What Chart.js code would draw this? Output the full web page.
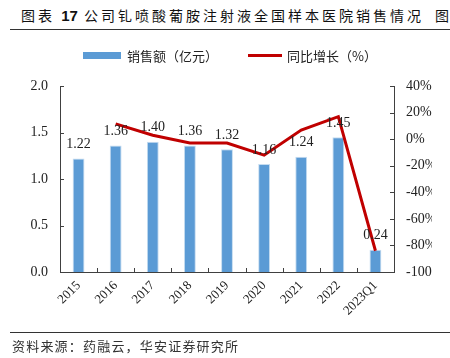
<!DOCTYPE html>
<html lang="zh">
<head>
<meta charset="UTF-8">
<title>钆喷酸葡胺注射液销售情况</title>
<script src="https://cdn.jsdelivr.net/npm/chart.js@4.4.0/dist/chart.umd.min.js"></script>
<style>
    body { margin: 0; width: 450px; height: 358px; overflow: hidden; background: #fff; position: relative; }
    .title { position: absolute; top: 6px; white-space: nowrap; font-family: "Noto Sans CJK SC", sans-serif; font-size: 14px; font-weight: 400; letter-spacing: 3px; color: #111; line-height: 18px; }
    .title b { font-family: "Liberation Sans", Arial, sans-serif; font-weight: bold; letter-spacing: 0; font-size: 15px; }
    .rule { position: absolute; left: 10px; width: 440px; height: 0; border-top: 1.5px solid #333; }
    #src { position: absolute; left: 12px; top: 336px; font-family: "Noto Sans CJK SC", sans-serif; font-size: 13px; letter-spacing: 1.2px; color: #333; }
    #wrap { position: absolute; left: 0; top: 0; width: 432px; height: 358px; overflow: hidden; }
</style>
</head>
<body>
<div class="title" style="left:21px">图表 <b>17</b> 公司钆喷酸葡胺注射液全国样本医院销售情况</div>
<div class="title" style="left:435px">图</div>
<div class="rule" style="top:29px"></div>
<div id="wrap"><canvas id="chart" width="450" height="358"></canvas></div>
<div class="rule" style="top:332px"></div>
<div id="src">资料来源：药融云，华安证券研究所</div>
<script>
const categories = ['2015', '2016', '2017', '2018', '2019', '2020', '2021', '2022', '2023Q1'];
const sales = [1.22, 1.36, 1.40, 1.36, 1.32, 1.16, 1.24, 1.45, 0.24];
const growth = [null, 11.5, 2.9, -2.9, -2.9, -12.1, 6.9, 16.9, -84];
const leftTicks = { min: 0, max: 2, step: 0.5 };
const rightTicks = { min: -100, max: 40, step: 20 };

const serif = '"Liberation Serif", "Times New Roman", serif';
const cjk = '"Noto Sans CJK SC", sans-serif';
const axisColor = '#404040';

// labels above bars, inward tick marks and the legend
const extras = {
    id: 'extras',
    afterDatasetsDraw(chart) {
        const ctx = chart.ctx;
        const meta = chart.getDatasetMeta(1);
        ctx.save();
        ctx.font = '14px ' + serif;
        ctx.fillStyle = '#222';
        ctx.textAlign = 'center';
        ctx.textBaseline = 'middle';
        meta.data.forEach((bar, i) => {
            ctx.fillText(sales[i].toFixed(2), bar.x, bar.y - 14);
        });
        ctx.restore();
    },
    afterDraw(chart) {
        const ctx = chart.ctx;
        const a = chart.chartArea;
        const yl = chart.scales.y, yr = chart.scales.y1;
        ctx.save();
        ctx.strokeStyle = axisColor;
        ctx.lineWidth = 1;
        ctx.beginPath();
        yl.ticks.forEach(t => {
            const p = Math.round(yl.getPixelForValue(t.value)) + 0.5;
            ctx.moveTo(a.left, p); ctx.lineTo(a.left + 4, p);
        });
        yr.ticks.forEach(t => {
            const p = Math.round(yr.getPixelForValue(t.value)) + 0.5;
            ctx.moveTo(a.right, p); ctx.lineTo(a.right - 4, p);
        });
        const w = (a.right - a.left) / categories.length;
        for (let i = 1; i < categories.length; i++) {
            const p = Math.round(a.left + w * i) + 0.5;
            ctx.moveTo(p, a.bottom); ctx.lineTo(p, a.bottom - 4);
        }
        ctx.stroke();

        // legend
        const bars = chart.data.datasets.find(d => d.type === 'bar');
        const line = chart.data.datasets.find(d => d.type === 'line');
        ctx.fillStyle = bars.backgroundColor;
        ctx.fillRect(83, 52, 38, 7);
        ctx.strokeStyle = line.borderColor;
        ctx.lineWidth = 3;
        ctx.beginPath();
        ctx.moveTo(248, 55.5); ctx.lineTo(282, 55.5);
        ctx.stroke();
        ctx.fillStyle = '#222';
        ctx.font = '13px ' + cjk;
        ctx.textBaseline = 'middle';
        ctx.fillText(bars.label, 127, 56);
        ctx.fillText(line.label, 287, 56);
        ctx.restore();
    }
};

new Chart(document.getElementById('chart'), {
    data: {
        labels: categories,
        datasets: [
            {
                type: 'line',
                label: '同比增长（%）',
                data: growth,
                yAxisID: 'y1',
                borderColor: '#c00000',
                borderWidth: 3,
                pointRadius: 0,
                tension: 0,
                order: 0
            },
            {
                type: 'bar',
                label: '销售额（亿元）',
                data: sales,
                yAxisID: 'y',
                backgroundColor: '#5b9bd5',
                borderColor: '#c5dcf0',
                borderWidth: 1,
                barPercentage: 0.32,
                categoryPercentage: 1,
                order: 1
            }
        ]
    },
    options: {
        responsive: false,
        animation: false,
        layout: { padding: { top: 86, left: 0, right: 0, bottom: 0 } },
        plugins: { legend: { display: false }, tooltip: { enabled: false } },
        scales: {
            x: {
                grid: { display: false, drawTicks: false },
                border: { display: true, color: axisColor, width: 1 },
                ticks: { color: '#222', font: { family: serif, size: 13 }, maxRotation: 45, minRotation: 45, padding: 6 },
                afterFit(s) { s.height = 86; }
            },
            y: {
                position: 'left',
                min: leftTicks.min, max: leftTicks.max,
                grid: { display: false, drawTicks: false },
                border: { display: true, color: axisColor, width: 1 },
                ticks: { stepSize: leftTicks.step, color: '#222', font: { family: serif, size: 14 }, padding: 12,
                    callback: v => v.toFixed(1) },
                afterFit(s) { s.width = 60; }
            },
            y1: {
                position: 'right',
                min: rightTicks.min, max: rightTicks.max,
                grid: { display: false, drawTicks: false },
                border: { display: true, color: axisColor, width: 1 },
                ticks: { stepSize: rightTicks.step, color: '#222', font: { family: serif, size: 14 }, padding: 12,
                    callback: v => v + '%' },
                afterFit(s) { s.width = 56; }
            }
        }
    },
    plugins: [extras]
});
</script>
</body>
</html>
